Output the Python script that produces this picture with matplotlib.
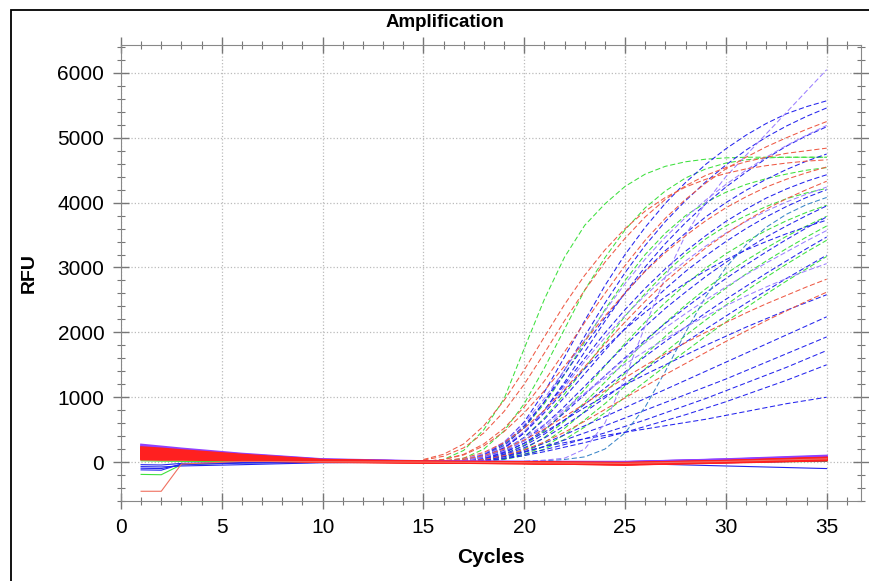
import matplotlib.pyplot as plt
from matplotlib.patches import Rectangle
from matplotlib.ticker import MultipleLocator

plt.rcParams['font.family'] = ['Liberation Sans', 'DejaVu Sans']

# cycles used for the amplifying part of the curves
amp_cycles = list(range(15, 36))

green_curves = [
    [0, 40, 180, 500, 975, 1750, 2510, 3160, 3650, 3980, 4250, 4440, 4560, 4630, 4670, 4690, 4700, 4700, 4700, 4700, 4700],
    [0, 10, 60, 200, 480, 900, 1450, 2050, 2650, 3150, 3580, 3920, 4180, 4380, 4520, 4610, 4660, 4690, 4700, 4700, 4700],
    [0, 5, 30, 100, 260, 530, 900, 1350, 1850, 2350, 2800, 3200, 3530, 3800, 4000, 4160, 4280, 4370, 4440, 4500, 4540],
    [0, 0, 20, 70, 180, 380, 680, 1050, 1450, 1850, 2250, 2600, 2920, 3200, 3440, 3640, 3800, 3940, 4060, 4150, 4220],
    [0, 0, 10, 40, 120, 260, 480, 780, 1120, 1480, 1830, 2160, 2460, 2740, 2990, 3210, 3400, 3570, 3720, 3850, 3960],
    [0, 0, 10, 30, 90, 200, 380, 630, 920, 1230, 1550, 1860, 2150, 2420, 2670, 2900, 3110, 3300, 3480, 3640, 3790],
    [0, 0, 0, 20, 60, 150, 300, 520, 780, 1070, 1370, 1660, 1940, 2200, 2450, 2680, 2900, 3100, 3290, 3470, 3640],
    [0, 0, 0, 15, 50, 120, 240, 420, 650, 900, 1170, 1440, 1700, 1950, 2190, 2420, 2640, 2850, 3050, 3240, 3420],
    [0, 0, 0, 10, 40, 100, 200, 350, 540, 760, 1000, 1240, 1480, 1710, 1940, 2160, 2380, 2590, 2790, 2980, 3170],
]

red_curves = [
    [30, 90, 220, 450, 780, 1200, 1680, 2180, 2650, 3080, 3450, 3780, 4050, 4260, 4420, 4540, 4630, 4700, 4760, 4800, 4840],
    [10, 40, 120, 280, 520, 850, 1250, 1700, 2150, 2600, 3030, 3420, 3760, 4050, 4300, 4520, 4700, 4860, 5000, 5130, 5250],
    [10, 40, 110, 250, 470, 760, 1100, 1480, 1870, 2250, 2610, 2940, 3230, 3490, 3720, 3920, 4090, 4240, 4360, 4460, 4550],
    [0, 20, 60, 150, 300, 520, 800, 1120, 1470, 1820, 2160, 2480, 2780, 3050, 3300, 3520, 3720, 3900, 4060, 4200, 4330],
    [0, 10, 40, 100, 200, 340, 510, 700, 900, 1100, 1300, 1490, 1670, 1840, 2000, 2150, 2300, 2440, 2570, 2700, 2820],
    [0, 0, 10, 40, 100, 190, 310, 460, 630, 810, 990, 1170, 1350, 1520, 1690, 1860, 2020, 2180, 2330, 2480, 2620],
    [40, 120, 280, 560, 950, 1420, 1930, 2430, 2880, 3270, 3600, 3870, 4080, 4240, 4360, 4450, 4520, 4570, 4610, 4640, 4660],
]

blue_curves = [
    [0, 10, 40, 120, 300, 620, 1080, 1620, 2180, 2720, 3200, 3620, 3990, 4310, 4590, 4830, 5040, 5220, 5370, 5480, 5570],
    [0, 10, 30, 100, 250, 530, 930, 1420, 1940, 2450, 2920, 3340, 3710, 4030, 4320, 4580, 4810, 5010, 5180, 5330, 5460],
    [0, 0, 20, 80, 210, 450, 800, 1230, 1700, 2170, 2610, 3010, 3370, 3690, 3980, 4240, 4470, 4680, 4870, 5030, 5170],
    [0, 5, 30, 110, 280, 560, 930, 1360, 1800, 2220, 2600, 2950, 3260, 3530, 3780, 4000, 4190, 4360, 4510, 4640, 4750],
    [0, 5, 25, 90, 220, 460, 800, 1200, 1600, 1990, 2350, 2680, 2980, 3250, 3490, 3710, 3900, 4070, 4210, 4330, 4430],
    [0, 0, 20, 70, 180, 380, 660, 1000, 1360, 1720, 2060, 2380, 2670, 2940, 3180, 3400, 3600, 3780, 3940, 4080, 4200],
    [0, 0, 15, 60, 160, 330, 570, 860, 1170, 1490, 1800, 2090, 2370, 2620, 2860, 3080, 3280, 3470, 3640, 3800, 3950],
    [0, 0, 15, 55, 140, 290, 500, 760, 1040, 1330, 1610, 1880, 2140, 2380, 2610, 2830, 3040, 3240, 3430, 3610, 3780],
    [0, 0, 20, 80, 220, 450, 760, 1100, 1440, 1760, 2050, 2310, 2550, 2760, 2950, 3120, 3270, 3400, 3520, 3630, 3730],
    [0, 0, 10, 45, 120, 250, 430, 650, 890, 1140, 1390, 1630, 1860, 2080, 2300, 2510, 2710, 2910, 3100, 3290, 3470],
    [0, 0, 10, 40, 110, 220, 370, 560, 770, 990, 1210, 1430, 1640, 1850, 2050, 2250, 2450, 2640, 2830, 3010, 3190],
    [0, 0, 15, 60, 150, 290, 460, 650, 840, 1020, 1190, 1350, 1500, 1650, 1800, 1940, 2080, 2210, 2340, 2460, 2580],
    [0, 0, 10, 35, 90, 180, 290, 420, 560, 700, 840, 980, 1120, 1260, 1400, 1540, 1680, 1820, 1960, 2100, 2240],
    [0, 0, 5, 30, 80, 150, 240, 340, 450, 560, 680, 800, 920, 1040, 1160, 1280, 1410, 1540, 1670, 1800, 1930],
    [0, 0, 5, 25, 60, 120, 190, 270, 360, 450, 550, 650, 760, 870, 980, 1100, 1220, 1340, 1460, 1590, 1720],
    [0, 0, 0, 20, 50, 100, 160, 230, 300, 380, 460, 550, 640, 730, 830, 930, 1040, 1150, 1260, 1380, 1500],
    [0, 0, 10, 40, 90, 160, 240, 300, 360, 410, 460, 510, 560, 610, 660, 720, 780, 840, 900, 950, 1000],
]

teal_curves = [
    [0, 0, 0, 0, 0, 10, 20, 40, 80, 200, 450, 850, 1400, 2000, 2550, 3000, 3350, 3620, 3820, 3970, 4080],
]

purple_curves = [
    [0, 0, 0, 0, 0, 10, 30, 60, 200, 600, 1300, 2100, 2850, 3500, 4000, 4400, 4730, 5060, 5390, 5720, 6050],
    [0, 5, 30, 90, 200, 370, 580, 820, 1060, 1290, 1510, 1710, 1900, 2080, 2250, 2410, 2560, 2700, 2830, 2950, 3060],
    [0, 10, 40, 130, 310, 600, 980, 1420, 1880, 2330, 2750, 3130, 3470, 3770, 4040, 4280, 4500, 4700, 4880, 5040, 5190],
    [0, 0, 20, 70, 170, 330, 540, 790, 1060, 1330, 1590, 1840, 2070, 2290, 2500, 2700, 2890, 3070, 3240, 3410, 3570],
    [0, 5, 30, 100, 240, 470, 790, 1160, 1550, 1920, 2260, 2570, 2850, 3100, 3330, 3530, 3710, 3870, 4010, 4130, 4240],
]

# baseline (non-amplifying) curves, read at these cycles
base_cycles = [1, 2, 3, 6, 10, 15, 20, 25, 30, 35]

base_red = [
    [230, 210, 185, 115, 35, 10, 0, -10, 20, 65],
    [215, 195, 170, 105, 30, 5, -5, -15, 15, 55],
    [200, 180, 160, 100, 30, 5, -5, -20, 10, 50],
    [185, 170, 150, 95, 25, 5, -10, -20, 15, 65],
    [175, 160, 140, 90, 25, 0, -10, -25, 10, 45],
    [165, 150, 130, 85, 25, 5, -5, -15, 20, 70],
    [150, 140, 125, 80, 20, 0, -10, -25, 5, 40],
    [140, 130, 115, 75, 20, 0, -15, -30, 5, 45],
    [130, 120, 110, 70, 20, 5, -10, -20, 15, 60],
    [120, 110, 100, 65, 15, 0, -10, -25, 10, 55],
    [110, 100, 95, 60, 15, 0, -15, -35, 0, 40],
    [100, 90, 85, 55, 10, -5, -15, -30, 5, 50],
    [90, 80, 75, 50, 10, 0, -10, -25, 10, 60],
    [80, 75, 70, 45, 10, -5, -15, -35, 0, 35],
    [70, 65, 60, 40, 5, -5, -15, -30, 5, 45],
    [60, 55, 55, 35, 5, -5, -20, -40, -5, 30],
    [50, 45, 45, 30, 5, -10, -20, -35, 0, 40],
    [40, 35, 35, 25, 0, -10, -20, -40, -10, 25],
]

base_red_low = [
    [-450, -450, -30, 10, 5, 0, -10, -20, 10, 50],
]

base_purple = [
    [270, 240, 210, 130, 45, 15, 5, 0, 40, 90],
    [250, 225, 195, 120, 40, 10, 0, -5, 35, 85],
    [235, 210, 180, 110, 35, 10, 0, 0, 45, 100],
    [215, 195, 170, 100, 35, 10, 5, 5, 40, 80],
    [190, 175, 155, 95, 30, 5, 0, -5, 30, 75],
]

base_blue = [
    [-40, -45, -20, -5, 0, 0, 0, -10, 0, 30],
    [-70, -75, -60, -40, -10, 0, -5, -10, -10, 20],
    [-95, -100, -40, -15, -5, -5, -10, -20, -60, -100],
    [160, 145, 125, 80, 25, 5, 0, -10, 10, 40],
    [-120, -125, -30, -10, 0, 0, -5, -10, 0, 30],
]

base_green = [
    [-190, -195, -40, -10, 0, 0, -5, -5, 0, 10],
    [20, 15, 10, 5, 0, 0, -5, 0, 5, 15],
]

RED = '#ff2020'
GREEN = '#3ee03e'
BLUE = '#2424ee'
PURPLE = '#9c80ff'

fig = plt.figure(figsize=(8.7, 5.81), dpi=100)
ax = fig.add_axes([0.139, 0.1377, 0.8506, 0.7848])

dash = (0, (5, 2.5))
for vals in green_curves:
    ax.plot(amp_cycles, vals, color=GREEN, lw=0.75, ls=dash)
for vals in blue_curves:
    ax.plot(amp_cycles, vals, color=BLUE, lw=0.75, ls=dash)
for vals in teal_curves:
    ax.plot(amp_cycles, vals, color='#3a86c8', lw=0.75, ls=dash)
for vals in purple_curves:
    ax.plot(amp_cycles, vals, color=PURPLE, lw=0.75, ls=dash)
for vals in red_curves:
    ax.plot(amp_cycles, vals, color='#ee5a45', lw=0.75, ls=dash)

for vals in base_green:
    ax.plot(base_cycles, vals, color=GREEN, lw=0.8)
for vals in base_blue:
    ax.plot(base_cycles, vals, color=BLUE, lw=0.8)
for vals in base_purple:
    ax.plot(base_cycles, vals, color='#9040ff', lw=1.4)
for vals in base_red:
    ax.plot(base_cycles, vals, color=RED, lw=1.4)
for vals in base_red_low:
    ax.plot(base_cycles, vals, color='#f07060', lw=0.8)

ax.set_xlim(0, 36.7)
ax.set_ylim(-600, 6430)
ax.xaxis.set_major_locator(MultipleLocator(5))
ax.xaxis.set_minor_locator(MultipleLocator(1))
ax.yaxis.set_major_locator(MultipleLocator(1000))
ax.yaxis.set_minor_locator(MultipleLocator(200))

ax.grid(True, which='major', color='#bbbbbb', ls=':', lw=0.9)
for s in ax.spines.values():
    s.set_color('#888888')
ax.tick_params(which='both', direction='inout', color='#777777',
               top=True, right=True, labelsize=15, pad=6)
ax.tick_params(which='major', length=12, width=1)
ax.tick_params(which='minor', length=6, width=0.8)

ax.set_xlabel('Cycles', fontsize=15, fontweight='bold', labelpad=8)
ax.set_ylabel('RFU', fontsize=14, fontweight='bold', labelpad=14)
fig.text(0.5115, 0.962, 'Amplification', ha='center', va='center',
         fontsize=13.5, fontweight='bold')

fig.patches.append(Rectangle((11 / 870, -0.1), 1.2, 1 - 10 / 581 + 0.1,
                             transform=fig.transFigure, fill=False,
                             edgecolor='black', lw=1.3))

fig.savefig('out.png', dpi=100)
